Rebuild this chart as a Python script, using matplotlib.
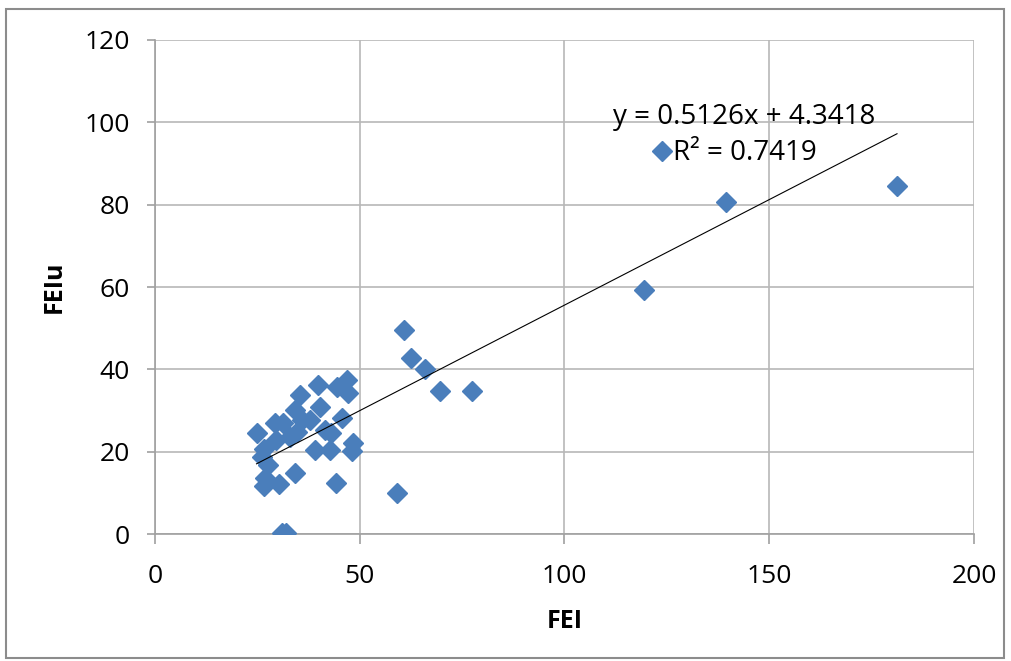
import numpy as np
import matplotlib.pyplot as plt
from matplotlib.patches import Rectangle

## data
fei = [24.8, 26.5, 26.1, 26.9, 26.5, 30.4, 34.2, 44.2, 30.9, 32.1,
       29.5, 29.3, 31.3, 33.0, 34.2, 35.4, 39.9, 40.3, 37.9, 39.1,
       42.7, 43.1, 45.6, 44.4, 46.8, 47.2, 48.4, 48.2, 35.8, 41.5,
       34.6, 27.6, 60.8, 62.5, 65.9, 69.6, 77.5, 59.0, 119.4, 123.8,
       139.4, 181.2]
feiu = [24.6, 20.6, 18.8, 13.5, 11.7, 12.1, 14.9, 12.3, 0.2, 0.2,
        22.8, 27.0, 26.9, 23.6, 30.1, 33.8, 36.2, 30.9, 27.7, 20.4,
        20.4, 24.5, 28.1, 35.8, 37.4, 34.2, 22.0, 20.2, 27.7, 25.3,
        24.8, 16.8, 49.5, 42.7, 40.2, 34.8, 34.8, 9.9, 59.3, 93.1,
        80.6, 84.5]

## trendline as printed on the chart
slope = 0.5126
intercept = 4.3418
r2 = 0.7419

x_ticks = [0, 50, 100, 150, 200]
y_ticks = [0, 20, 40, 60, 80, 100, 120]

plt.rcParams['font.family'] = ['Open Sans', 'DejaVu Sans']

fig = plt.figure(figsize=(10.11, 6.61), dpi=100)
ax = fig.add_axes([0.1533, 0.1921, 0.8101, 0.7474])

## outer chart border
fig.patches.append(Rectangle((6 / 1011, 3 / 661), 998 / 1011, 649 / 661,
                             transform=fig.transFigure, fill=False,
                             edgecolor='#8c8c8c', linewidth=1.5))

## scatter points
ax.plot(fei, feiu, linestyle='none', marker='D', markersize=10.5,
        color='#4a7ebb', markeredgecolor='#4a7ebb', zorder=3)

## linear trendline
xs = np.array([min(fei), max(fei)])
ax.plot(xs, slope * xs + intercept, color='black', linewidth=0.8, zorder=4)

## trendline equation and R²
ax.text(111.8, 101.3, 'y = %.4fx + %.4f' % (slope, intercept),
        fontsize=20, ha='left', va='center', zorder=5)
ax.text(126.5, 92.5, 'R² = %.4f' % r2,
        fontsize=20, ha='left', va='center', zorder=5)

## axes, grid and ticks
ax.set_xlim(0, 200)
ax.set_ylim(0, 120)
ax.set_xticks(x_ticks)
ax.set_yticks(y_ticks)
ax.grid(True, color='#b8b8b8', linewidth=1.2)
ax.set_axisbelow(True)
for side in ['top', 'right']:
    ax.spines[side].set_visible(False)
for side in ['left', 'bottom']:
    ax.spines[side].set_color('#a0a0a0')
    ax.spines[side].set_linewidth(1.2)
ax.tick_params(axis='x', length=7.5, width=1.2, color='#a0a0a0',
               labelsize=19, pad=14)
ax.tick_params(axis='y', length=6, width=1.2, color='#a0a0a0',
               labelsize=19, pad=12)

## axis titles
fig.text(565 / 1011, 1 - 621 / 661, 'FEI', fontsize=18, fontweight='bold',
         ha='center', va='center')
fig.text(54.5 / 1011, 1 - 287 / 661, 'FEIu', fontsize=18, fontweight='bold',
         ha='center', va='center', rotation=90)

fig.savefig('out.png', dpi=100)
